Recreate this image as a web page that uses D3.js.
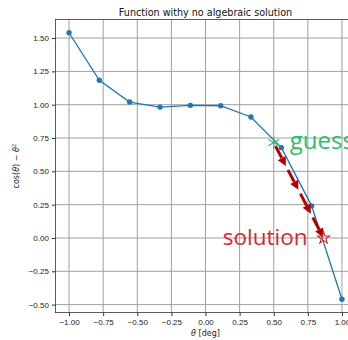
<!DOCTYPE html>
<html>
<head>
<meta charset="utf-8">
<script src="https://cdn.jsdelivr.net/npm/d3@7"></script>
<style>
  body { margin: 0; background: #fff; }
  svg { display: block; font-family: 'DejaVu Sans', sans-serif; }
  .grid line { stroke: #a0a0a0; stroke-width: 1; }
  .axis path, .axis line { stroke: #333; }
  .axis text { fill: #222; font-size: 8px; }
</style>
</head>
<body>
<div id="chart"></div>
<script>
// sampled curve (theta, cos(theta) - theta^3)
const thetas = [-1.0, -0.778, -0.556, -0.333, -0.111, 0.111, 0.333, 0.556, 0.778, 1.0];
const values = [1.54, 1.183, 1.020, 0.982, 0.995, 0.992, 0.908, 0.678, 0.241, -0.46];

const xTicks = [-1.0, -0.75, -0.5, -0.25, 0.0, 0.25, 0.5, 0.75, 1.0];
const yTicks = [-0.5, -0.25, 0.0, 0.25, 0.5, 0.75, 1.0, 1.25, 1.5];

// annotation points [theta, value]
const guess = [0.5, 0.715];
const solution = [0.865, 0.0];
const arrowCount = 4;

const width = 348;
const height = 340;
const margin = {top: 19.4, right: -7.6, bottom: 27.4, left: 55.4};

const svg = d3.select('#chart').append('svg')
  .attr('width', width)
  .attr('height', height);

const x = d3.scaleLinear().domain([-1.1, 1.1])
  .range([margin.left, width - margin.right]);
const y = d3.scaleLinear().domain([-0.56, 1.64])
  .range([height - margin.bottom, margin.top]);

const fmt = v => d3.format('.2f')(v).replace('-', '\u2212');

// grid
const grid = svg.append('g').attr('class', 'grid');
grid.selectAll('line.gx').data(xTicks).enter().append('line')
  .attr('class', 'gx')
  .attr('x1', d => x(d)).attr('x2', d => x(d))
  .attr('y1', y.range()[1]).attr('y2', y.range()[0]);
grid.selectAll('line.gy').data(yTicks).enter().append('line')
  .attr('class', 'gy')
  .attr('x1', x.range()[0]).attr('x2', x.range()[1])
  .attr('y1', d => y(d)).attr('y2', d => y(d));

// frame
svg.append('rect')
  .attr('x', x.range()[0]).attr('y', y.range()[1])
  .attr('width', x.range()[1] - x.range()[0])
  .attr('height', y.range()[0] - y.range()[1])
  .attr('fill', 'none').attr('stroke', '#333').attr('stroke-width', 0.8);

// axes
svg.append('g').attr('class', 'axis')
  .attr('transform', `translate(0, ${y.range()[0]})`)
  .call(d3.axisBottom(x).tickValues(xTicks).tickFormat(fmt).tickSize(3.5).tickPadding(3))
  .call(g => g.select('.domain').remove());
svg.append('g').attr('class', 'axis')
  .attr('transform', `translate(${x.range()[0]}, 0)`)
  .call(d3.axisLeft(y).tickValues(yTicks).tickFormat(fmt).tickSize(3.5).tickPadding(3))
  .call(g => g.select('.domain').remove());

// curve
const line = d3.line().x((d, i) => x(thetas[i])).y(d => y(d));
svg.append('path')
  .datum(values)
  .attr('d', line)
  .attr('fill', 'none')
  .attr('stroke', '#1f77b4')
  .attr('stroke-width', 1.3);

svg.selectAll('circle.pt').data(values).enter().append('circle')
  .attr('class', 'pt')
  .attr('cx', (d, i) => x(thetas[i]))
  .attr('cy', d => y(d))
  .attr('r', 2.7)
  .attr('fill', '#1f77b4');

// arrows from guess to solution
const gx = x(guess[0]), gy = y(guess[1]);
const sx = x(solution[0]), sy = y(solution[1]);
const ang = Math.atan2(sy - gy, sx - gx);
const arrows = svg.append('g');
for (let i = 0; i < arrowCount; i++) {
  const t0 = i / arrowCount + 0.035;
  const t1 = (i + 1) / arrowCount - 0.005;
  const ax = gx + (sx - gx) * t0, ay = gy + (sy - gy) * t0;
  const bx = gx + (sx - gx) * t1, by = gy + (sy - gy) * t1;
  const hl = 9, hw = 4.5;
  const cx = bx - hl * Math.cos(ang), cy = by - hl * Math.sin(ang);
  arrows.append('line')
    .attr('x1', ax).attr('y1', ay).attr('x2', cx).attr('y2', cy)
    .attr('stroke', '#b50000').attr('stroke-width', 3);
  const px = -Math.sin(ang) * hw, py = Math.cos(ang) * hw;
  arrows.append('path')
    .attr('d', `M${bx},${by}L${cx + px},${cy + py}L${cx - px},${cy - py}Z`)
    .attr('fill', '#b50000');
}

// markers
svg.append('path')
  .attr('d', d3.symbol(d3.symbolAsterisk, 110)())
  .attr('transform', `translate(${gx}, ${gy})`)
  .attr('fill', 'none').attr('stroke', '#2dbd6a').attr('stroke-width', 1.1);
svg.append('path')
  .attr('d', d3.symbol(d3.symbolStar, 45)())
  .attr('transform', `translate(${sx}, ${sy})`)
  .attr('fill', 'none').attr('stroke', '#d42a2a').attr('stroke-width', 1.1);

// labels
svg.append('text')
  .attr('x', gx + 16).attr('y', gy + 6)
  .attr('font-family', 'Open Sans, sans-serif')
  .attr('font-size', 24)
  .attr('fill', '#2dbd6a')
  .text('guess');
svg.append('text')
  .attr('x', sx - 16).attr('y', sy + 7)
  .attr('text-anchor', 'end')
  .attr('font-family', 'Open Sans, sans-serif')
  .attr('font-size', 22.5)
  .attr('fill', '#d42a2a')
  .text('solution');

svg.append('text')
  .attr('x', (x.range()[0] + x.range()[1]) / 2).attr('y', 15.5)
  .attr('text-anchor', 'middle')
  .attr('font-size', 9.6)
  .attr('fill', '#111')
  .text('Function withy no algebraic solution');

svg.append('text')
  .attr('x', (x.range()[0] + x.range()[1]) / 2).attr('y', 336)
  .attr('text-anchor', 'middle')
  .attr('font-size', 8)
  .attr('fill', '#222')
  .html('<tspan font-style="italic">θ</tspan> [deg]');

const yl = svg.append('text')
  .attr('transform', `translate(19, ${(y.range()[0] + y.range()[1]) / 2}) rotate(-90)`)
  .attr('text-anchor', 'middle')
  .attr('font-size', 8)
  .attr('fill', '#222');
yl.append('tspan').text('cos(');
yl.append('tspan').attr('font-style', 'italic').text('θ');
yl.append('tspan').text(') \u2212 ');
yl.append('tspan').attr('font-style', 'italic').text('θ');
yl.append('tspan').attr('font-size', 5.6).attr('dy', -3.5).text('2');
</script>
</body>
</html>
